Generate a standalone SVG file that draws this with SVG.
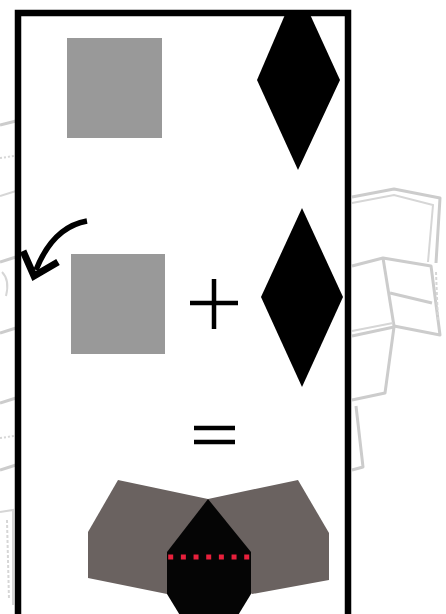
<svg xmlns="http://www.w3.org/2000/svg" width="446" height="614" viewBox="0 0 446 614">
  <style>
    .sk { fill: none; stroke: #cccccc; stroke-width: 3; stroke-linejoin: round; }
    .skt { fill: none; stroke: #d6d6d6; stroke-width: 2; }
    .sq { fill: #999999; }
    .dia { fill: #000000; }
    .op { stroke: #000000; stroke-width: 4.5; fill: none; }
  </style>
  <rect x="0" y="0" width="446" height="614" fill="#ffffff"/>

  <g id="background-sketch-left">
    <path class="sk" d="M0,125 L16,121"/>
    <path class="skt" d="M0,158 L14,156" stroke-dasharray="2 2"/>
    <path class="skt" d="M0,196 L16,191"/>
    <path class="sk" d="M0,262 L16,257"/>
    <path class="skt" d="M2,272 Q10,280 6,296"/>
    <path class="sk" d="M0,333 L16,328"/>
    <path class="sk" d="M0,403 L16,398"/>
    <path class="skt" d="M0,438 L14,436" stroke-dasharray="2 2"/>
    <path class="sk" d="M0,470 L16,465"/>
    <path class="skt" d="M0,512 L13,510 L13,605"/>
    <path class="skt" d="M7,520 L9,600" stroke-dasharray="3 2"/>
  </g>

  <g id="background-sketch-right">
    <path class="sk" d="M352,197 L394,189 L440,198 L436,263"/>
    <path class="skt" d="M352,203 L394,195 L433,205 L428,262"/>
    <path class="sk" d="M352,266 L383,258 L431,266 L440,335 L394,326"/>
    <path class="sk" d="M383,258 L394,326"/>
    <path class="sk" d="M390,293 L432,303"/>
    <path class="skt" d="M436,272 L438,322" stroke-dasharray="3 2"/>
    <path class="sk" d="M352,336 L394,327 L385,393 L352,400"/>
    <path class="skt" d="M352,331 L393,323"/>
    <path class="sk" d="M356,406 L363,467 L352,470"/>
  </g>

  <g id="frame">
    <rect x="18" y="13" width="330" height="630" fill="#ffffff" stroke="#000000" stroke-width="6.5"/>
  </g>

  <g id="square-top">
    <rect class="sq" x="67" y="38" width="95" height="100"/>
  </g>
  <g id="diamond-top">
    <polygon class="dia" points="287,10 308,10 340,80 298,170 257,80"/>
  </g>

  <g id="connectors">
    <path d="M87,221 Q53,227 36,270" fill="none" stroke="#000000" stroke-width="5.5"/>
    <polyline points="23,251 34,276 58,262" fill="none" stroke="#000000" stroke-width="7" stroke-linejoin="miter"/>
  </g>

  <g id="square-middle">
    <rect class="sq" x="71" y="254" width="94" height="100"/>
  </g>
  <g id="plus">
    <path class="op" d="M190,303 L238,303 M214,279 L214,329"/>
  </g>
  <g id="diamond-middle">
    <polygon class="dia" points="302,208 343,297 302,387 261,297"/>
  </g>

  <g id="equals">
    <path class="op" d="M194,428 L235,428 M194,442 L235,442"/>
  </g>

  <g id="result">
    <polygon fill="#6a6260" points="118,480 208,499 208,560 167,594 88,578 88,532"/>
    <polygon fill="#6a6260" points="298,480 208,499 208,560 252,594 329,580 329,533"/>
    <polygon fill="#050505" points="208,499 251,552 251,594 226,635 192,635 167,594 167,552"/>
    <line x1="168.2" y1="557" x2="252" y2="557" stroke="#e8203c" stroke-width="5" stroke-dasharray="5 7.67"/>
  </g>
</svg>
